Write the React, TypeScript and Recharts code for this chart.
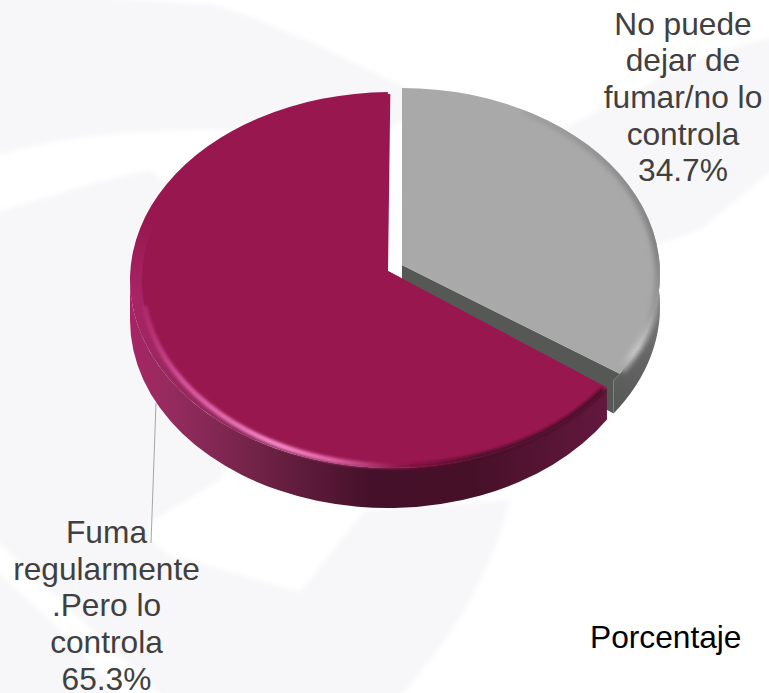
import React from "react";
import { PieChart, Pie, Cell } from "recharts";

// ---------- data ----------
const categories = ["No puede dejar de fumar/no lo controla", "Fuma regularmente .Pero lo controla"];
const values = [34.7, 65.3];
const labelLines = [
  ["No puede", "dejar de", "fumar/no lo", "controla"],
  ["Fuma", "regularmente", ".Pero lo", "controla"],
];
const colors = ["#a9a9a9", "#98174f"];
const seriesName = "Porcentaje";

const data = categories.map((name, i) => ({ name, value: values[i] }));

const W = 769;
const H = 693;
const FONT = "'Liberation Sans', Arial, sans-serif";
const RY_RATIO = 188 / 258;
const RAD = Math.PI / 180;

const arcPath = (
  cx: number, cy: number, rx: number, ry: number, from: number, to: number,
  move = true
) => {
  const p = (a: number) => [cx + rx * Math.cos(a * RAD), cy - ry * Math.sin(a * RAD)];
  const [x0, y0] = p(from);
  const [x1, y1] = p(to);
  const large = Math.abs(from - to) > 180 ? 1 : 0;
  const sweep = from > to ? 1 : 0;
  return `${move ? "M" : "L"}${x0},${y0} A${rx},${ry} 0 ${large} ${sweep} ${x1},${y1}`;
};

const GreySlice = ({ cx, cy, outerRadius, startAngle, endAngle, fill }: any) => {
  const X = cx + 14;
  const Y = cy - 6;
  const rx = outerRadius;
  const ry = outerRadius * RY_RATIO - 2;
  const apexY = Y - 9;
  const depth = 33;
  const faceEnd = endAngle + 2.5;
  const pt = (a: number) => [X + rx * Math.cos(a * RAD), Y - ry * Math.sin(a * RAD)];
  const [ex, ey] = pt(endAngle);
  const face = `M${X},${apexY} L${pt(startAngle).join(",")} ${arcPath(X, Y, rx, ry, startAngle, faceEnd, false)} Z`;
  const wall = `${arcPath(X, Y, rx, ry, 5, faceEnd)} L${ex},${ey} ${arcPath(X, Y + depth, rx, ry, endAngle, 5, false)} Z`;
  return (
    <g>
      <defs>
        <linearGradient id="greyWall" gradientUnits="userSpaceOnUse" x1={612} y1={410} x2={660} y2={290}>
          <stop offset="0" stopColor="#565856" />
          <stop offset="0.45" stopColor="#636463" />
          <stop offset="1" stopColor="#7c7c7c" />
        </linearGradient>
        <linearGradient id="greyRim" gradientUnits="userSpaceOnUse" x1={520} y1={110} x2={622} y2={378}>
          <stop offset="0" stopColor="#a0a0a0" />
          <stop offset="0.3" stopColor="#8e8e8e" />
          <stop offset="0.62" stopColor="#7e7e7e" />
          <stop offset="0.82" stopColor="#9a9a9a" />
          <stop offset="0.93" stopColor="#c8c8c8" />
          <stop offset="1" stopColor="#8a8a8a" />
        </linearGradient>
        <filter id="greyBlur" x="-20%" y="-20%" width="140%" height="140%">
          <feGaussianBlur stdDeviation="2.8" />
        </filter>
        <clipPath id="greyClip">
          <path d={`${face} ${wall}`} />
        </clipPath>
      </defs>
      <path d={wall} fill="url(#greyWall)" />
      <path d={`M${X},${apexY} L${pt(faceEnd).join(",")} L${ex},${ey} L${ex},${ey + depth} L${X},${apexY + depth} Z`} fill="#565856" />
      <path d={face} fill={fill} />
      <g clipPath="url(#greyClip)">
        <path
          d={arcPath(X, Y, rx - 1, ry - 1, 62, faceEnd + 1)}
          fill="none"
          stroke="url(#greyRim)"
          strokeWidth={8}
          filter="url(#greyBlur)"
        />
      </g>
    </g>
  );
};

const WineSlice = ({ cx, cy, outerRadius, startAngle, endAngle, fill }: any) => {
  const X = cx + 4;
  const Y = cy;
  const rx = outerRadius + 4;
  const ry = outerRadius * RY_RATIO;
  const apexY = Y - 9;
  const depth = 40;
  const stop = endAngle + 0.9;
  const pt = (a: number) => [X + rx * Math.cos(a * RAD), Y - ry * Math.sin(a * RAD)];
  const face = `M${cx},${apexY} L${pt(startAngle).join(",")} ${arcPath(X, Y, rx, ry, startAngle, stop, false)} Z`;
  const wall = `${arcPath(X, Y, rx, ry, startAngle, -180)} ${arcPath(cx, Y + depth, outerRadius, ry, -180, startAngle + 3, false)} Z`;
  const ix = cx + 9;
  const irx = outerRadius - 3;
  const iry = ry - 2;
  return (
    <g>
      <defs>
        <linearGradient id="wineWall" gradientUnits="userSpaceOnUse" x1={130} y1={0} x2={610} y2={0}>
          <stop offset="0" stopColor="#a82465" />
          <stop offset="0.06" stopColor="#9a2a60" />
          <stop offset="0.13" stopColor="#8c2a5a" />
          <stop offset="0.3" stopColor="#6a2042" />
          <stop offset="0.5" stopColor="#45102a" />
          <stop offset="0.72" stopColor="#471029" />
          <stop offset="1" stopColor="#64183e" />
        </linearGradient>
        <linearGradient id="wineRimFill" gradientUnits="userSpaceOnUse" x1={0} y1={220} x2={0} y2={440}>
          <stop offset="0" stopColor="#98174f" />
          <stop offset="0.35" stopColor="#a82465" />
          <stop offset="1" stopColor="#8e2a5a" />
        </linearGradient>
        <linearGradient id="wineHL" gradientUnits="userSpaceOnUse" x1={135} y1={0} x2={610} y2={0}>
          <stop offset="0" stopColor="#a81f60" />
          <stop offset="0.1" stopColor="#d8559c" />
          <stop offset="0.3" stopColor="#f98fce" />
          <stop offset="0.42" stopColor="#e466a8" />
          <stop offset="0.56" stopColor="#8a1245" />
          <stop offset="0.72" stopColor="#4e0d2a" />
          <stop offset="1" stopColor="#4a0c28" />
        </linearGradient>
        <filter id="wineBlur" x="-10%" y="-10%" width="120%" height="120%">
          <feGaussianBlur stdDeviation="1.8" />
        </filter>
      </defs>
      <path d={wall} fill="url(#wineWall)" />
      <path d={face} fill="url(#wineRimFill)" />
      <path
        d={`M${cx},${apexY} L${pt(startAngle).join(",")} ${arcPath(ix, Y, irx, iry, startAngle, endAngle + 1.5, false)} Z`}
        fill={fill}
      />
      <path
        d={arcPath(ix, Y, irx, iry, startAngle - 1, -172)}
        fill="none"
        stroke="url(#wineHL)"
        strokeWidth={5}
        filter="url(#wineBlur)"
      />
    </g>
  );
};

const PieShape = (props: any) => (props.index === 0 ? <GreySlice {...props} /> : <WineSlice {...props} />);

const renderLabel = (props: any) => {
  const { index, value } = props;
  const isGrey = index === 0;
  const x = isGrey ? 683 : 106.5;
  const y = isGrey ? 34.5 : 543;
  return (
    <text x={x} y={y} textAnchor="middle" fontFamily={FONT} fontSize={31.7} fill="#404040" key={`lbl-${index}`}>
      {labelLines[index].map((line, i) => (
        <tspan key={i} x={x} y={y + i * 36.7}>
          {line}
        </tspan>
      ))}
      <tspan x={x} y={y + 4 * 36.7}>{`${value.toFixed(1)}%`}</tspan>
    </text>
  );
};

const renderLabelLine = (props: any) =>
  props.index === 1 ? (
    <path key="leader" d="M156,403 L151,543" stroke="#a6a6a6" strokeWidth={1} fill="none" />
  ) : (
    <g key="none" />
  );

const Watermark = () => (
  <svg width={W} height={H} style={{ position: "absolute", left: 0, top: 0 }}>
    <defs>
      <filter id="wmBlur" x="-5%" y="-5%" width="110%" height="110%">
        <feGaussianBlur stdDeviation="2.5" />
      </filter>
    </defs>
    <rect width={W} height={H} fill="#ffffff" />
    <g fill="#f7f7f9" filter="url(#wmBlur)">
      <path d="M-10,-10 L-10,158 C50,138 120,130 210,130 L390,130 L430,100 C350,60 280,25 215,5 Z" />
      <path d="M-10,214 C40,200 90,182 150,170 L300,300 L220,480 L150,522 L150,540 L175,560 L175,703 L170,703 L60,600 L-10,535 Z" />
      <path d="M-10,565 L50,620 L130,703 L-10,703 Z" />
      <path d="M175,556 L300,592 L365,510 L510,500 C490,580 450,640 395,703 L175,703 Z" />
      <path d="M779,36 C720,48 680,64 630,95 L560,130 L600,240 L650,247 L700,230 L779,165 Z" />
    </g>
  </svg>
);

export default function App() {
  return (
    <div style={{ position: "absolute", left: 0, top: 0, width: W, height: H, overflow: "hidden" }}>
      <Watermark />
      <div style={{ position: "absolute", left: 0, top: 0 }}>
        <PieChart width={W} height={H} margin={{ top: 0, right: 0, bottom: 0, left: 0 }}>
          <Pie
            data={data}
            dataKey="value"
            nameKey="name"
            cx={388}
            cy={280}
            outerRadius={258}
            innerRadius={0}
            startAngle={90}
            endAngle={-270}
            stroke="none"
            isAnimationActive={false}
            shape={PieShape}
            label={renderLabel}
            labelLine={renderLabelLine}
          >
            {data.map((d, i) => (
              <Cell key={d.name} fill={colors[i]} />
            ))}
          </Pie>
          <text x={590} y={648} fontFamily={FONT} fontSize={31.7} fill="#000000">
            {seriesName}
          </text>
        </PieChart>
      </div>
    </div>
  );
}
